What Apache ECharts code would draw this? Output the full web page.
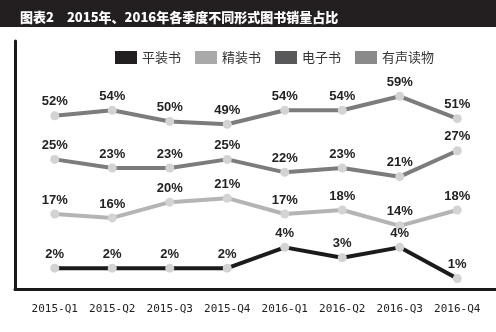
<!DOCTYPE html>
<html><head><meta charset="utf-8">
<script src="https://cdn.jsdelivr.net/npm/echarts@6/dist/echarts.min.js"></script>
<style>html,body{margin:0;padding:0;background:#fff}#c{width:496px;height:332px}</style>
</head><body><div id="c"></div>
<script>
const categories = ['2015-Q1','2015-Q2','2015-Q3','2015-Q4','2016-Q1','2016-Q2','2016-Q3','2016-Q4'];
const seriesNames = ['平装书','精装书','电子书','有声读物'];
const paperback = [2,2,2,2,4,3,4,1];
const hardcover = [17,16,20,21,17,18,14,18];
const ebook = [25,23,23,25,22,23,21,27];
const audio = [52,54,50,49,54,54,59,51];
const titleText = '图表2\u30002015年、2016年各季度不同形式图书销量占比';

const lineColors = ['#1c1a1b','#b4b4b4','#7c7c7c','#7c7c7c'];
const legendColors = ['#231f20','#a9a9a9','#58585a','#8a8a8a'];
const axisRanges = [[0,22],[-2,56],[-5,48],[-10,72]];
const values = [paperback, hardcover, ebook, audio];

const chart = echarts.init(document.getElementById('c'));
const numFont = 'Liberation Sans, Arial, Noto Sans CJK SC, sans-serif';
chart.setOption({
  animation:false,
  graphic:[{type:'rect',shape:{x:0,y:0,width:496,height:27},style:{fill:'#231f20'},z:-1}],
  title:{text:titleText,left:15,top:6,textStyle:{color:'#fff',fontSize:13,fontWeight:900,fontFamily:'Noto Sans CJK SC, sans-serif'}},
  legend:{
    left:110, top:46, itemWidth:22, itemHeight:13, itemGap:14,
    icon:'rect',
    textStyle:{fontSize:13,color:'#333',fontFamily:'Noto Sans CJK SC, sans-serif'},
    data: seriesNames.map((n,i)=>({name:n,itemStyle:{color:legendColors[i]}}))
  },
  grid:[
    {left:26,right:10,top:60,bottom:43},
    {left:15,right:-5,top:41,bottom:43}
  ],
  xAxis:[
    {type:'category',gridIndex:0,data:categories,boundaryGap:true,
     axisLine:{show:false},axisTick:{show:false},splitLine:{show:false},
     axisLabel:{interval:0,margin:15,fontSize:11,color:'#222',fontFamily:'DejaVu Sans Mono, monospace'}},
    {type:'value',gridIndex:1,min:0,max:1,axisLine:{show:true,lineStyle:{color:'#1a1a1a',width:3}},
     axisTick:{show:false},axisLabel:{show:false},splitLine:{show:false}}
  ],
  yAxis: axisRanges.map(r=>({type:'value',gridIndex:0,min:r[0],max:r[1],show:false,splitLine:{show:false}}))
    .concat([{type:'value',gridIndex:1,min:0,max:1,axisLine:{show:true,lineStyle:{color:'#1a1a1a',width:3}},
      axisTick:{show:false},axisLabel:{show:false},splitLine:{show:false}}]),
  series: seriesNames.map((n,i)=>({
    name:n,type:'line',xAxisIndex:0,yAxisIndex:i,data:values[i],
    symbol:'circle',symbolSize:9,
    itemStyle:{color:'#d3d3d3'},
    lineStyle:{color:lineColors[i],width:4},
    label:{show:true,position:'top',distance:3,formatter:'{c}%',fontSize:13,fontWeight:'bold',color:'#222',fontFamily:numFont}
  }))
});
</script></body></html>
